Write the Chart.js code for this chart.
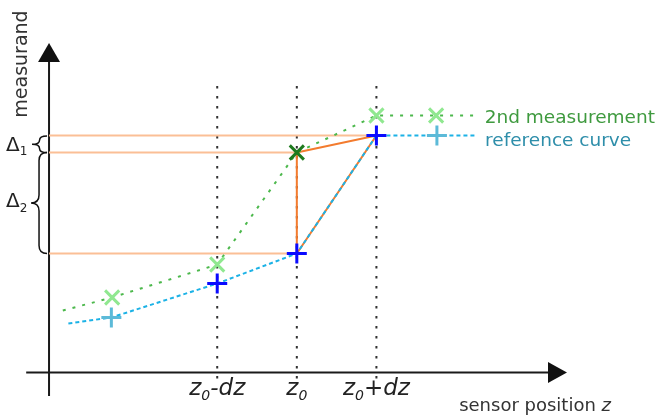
<!DOCTYPE html>
<html><head><meta charset="utf-8">
<script src="https://cdn.jsdelivr.net/npm/chart.js@4.4.1/dist/chart.umd.min.js"></script>
<style>html,body{margin:0;padding:0;background:#fff;overflow:hidden}canvas{display:block}</style>
</head><body>
<canvas id="c" width="657" height="415"></canvas>
<script>
// z in units of dz (z0 = 0), measurand in arbitrary units
const refX  = [-2.87, -2.33, -1, 0, 1, 1.76, 2.24];
const refY  = [4.9, 5.5, 8.9, 11.9, 23.7, 23.7, 23.7];
const measX = [-2.94, -2.32, -1, 0, 1, 1.75, 2.26];
const measY = [6.2, 7.5, 10.8, 22.0, 25.7, 25.7, 25.7];
const tickValues = [-1, 0, 1];
const tickLabels = [['z', '0', '-dz'], ['z', '0', ''], ['z', '0', '+dz']];
const seriesNames = ['2nd measurement', 'reference curve'];
const xTitle = ['sensor position ', 'z'];
const yTitle = 'measurand';
const deltaLabels = [['Δ', '1'], ['Δ', '2']];

// axis frame (data units)
const axisX = -3.113, axisXEnd = 3.394, axisXStart = -3.40;
const axisYTop = 32.95, axisYBottom = -2.35;
const guideTop = 29.3, guideBottom = -0.6;

const pts = (xs, ys) => xs.map((x, i) => ({x, y: ys[i]}));
const FONT = '"DejaVu Sans", sans-serif';

const refColors = refX.map((_, i) => (i >= 2 && i <= 4) ? '#0a0aff' : '#5cbad8');
const measColors = measX.map((_, i) => i === 3 ? '#1e7a1e' : '#90e890');
const markerR = refX.map((_, i) => (i === 0 || i === refX.length - 1) ? 0 : 10);
const markerM = measX.map((_, i) => (i === 0 || i === measX.length - 1) ? 0 : 10);

const datasets = [
  { data: pts(refX, refY), showLine: true, borderColor: '#1cb2e6', borderWidth: 2, borderDash: [4, 3],
    pointStyle: 'cross', pointRadius: markerR, pointBorderColor: refColors, pointBorderWidth: 3, order: 1 },
  { data: pts(measX, measY), showLine: true, borderColor: '#4cb84c', borderWidth: 2, borderDash: [3, 7],
    pointStyle: 'crossRot', pointRadius: markerM, pointBorderColor: measColors, pointBorderWidth: 3, order: 2 },
  // orange triangle
  { data: [{x: 0, y: measY[3]}, {x: 0, y: refY[3]}, {x: refX[4], y: refY[4]}, {x: 0, y: measY[3]}],
    showLine: true, borderColor: '#f37b2e', borderWidth: 2, pointRadius: 0, order: 3 },
  // orange levels
  { data: [{x: axisX, y: refY[4]}, {x: refX[4], y: refY[4]}], showLine: true, borderColor: '#fbbf96', borderWidth: 2, pointRadius: 0, order: 4 },
  { data: [{x: axisX, y: measY[3]}, {x: measX[3], y: measY[3]}], showLine: true, borderColor: '#fbbf96', borderWidth: 2, pointRadius: 0, order: 4 },
  { data: [{x: axisX, y: refY[3]}, {x: refX[3], y: refY[3]}], showLine: true, borderColor: '#fbbf96', borderWidth: 2, pointRadius: 0, order: 4 },
];
tickValues.forEach(v => datasets.push({
  data: [{x: v, y: guideBottom}, {x: v, y: guideTop}], showLine: true, borderColor: '#333',
  borderWidth: 2, borderDash: [2.5, 7.5], pointRadius: 0, order: 10
}));

function drawRuns(ctx, runs, x, y, align) {
  let w = 0;
  runs.forEach(r => { ctx.font = r.font; r.w = ctx.measureText(r.text).width; w += r.w; });
  let cx = align === 'center' ? x - w / 2 : (align === 'right' ? x - w : x);
  runs.forEach(r => {
    ctx.font = r.font; ctx.fillStyle = r.color || '#222';
    ctx.fillText(r.text, cx, y + (r.dy || 0)); cx += r.w;
  });
}

function brace(ctx, xr, y1, y2, d) {
  const mid = (y1 + y2) / 2, xm = xr - d / 2, xt = xr - d;
  const r = Math.min(d / 2, (mid - y1) / 2);
  ctx.beginPath();
  ctx.moveTo(xr, y1);
  ctx.quadraticCurveTo(xm, y1, xm, y1 + r);
  ctx.lineTo(xm, mid - r);
  ctx.quadraticCurveTo(xm, mid, xt, mid);
  ctx.quadraticCurveTo(xm, mid, xm, mid + r);
  ctx.lineTo(xm, y2 - r);
  ctx.quadraticCurveTo(xm, y2, xr, y2);
  ctx.stroke();
}

const decor = {
  id: 'decor',
  beforeDatasetsDraw(chart) {
    const {ctx, scales: {x, y}} = chart;
    const ax = x.getPixelForValue(axisX), ay = y.getPixelForValue(0);
    const yTop = y.getPixelForValue(axisYTop), xEnd = x.getPixelForValue(axisXEnd);
    ctx.save();
    ctx.strokeStyle = '#1a1a1a'; ctx.fillStyle = '#111'; ctx.lineWidth = 2;
    ctx.beginPath();
    ctx.moveTo(ax, y.getPixelForValue(axisYBottom)); ctx.lineTo(ax, yTop + 15);
    ctx.moveTo(x.getPixelForValue(axisXStart), ay); ctx.lineTo(xEnd - 15, ay);
    ctx.stroke();
    ctx.beginPath();
    ctx.moveTo(ax, yTop); ctx.lineTo(ax - 11, yTop + 19); ctx.lineTo(ax + 11, yTop + 19); ctx.closePath(); ctx.fill();
    ctx.beginPath();
    ctx.moveTo(xEnd, ay); ctx.lineTo(xEnd - 19, ay - 10.5); ctx.lineTo(xEnd - 19, ay + 10.5); ctx.closePath(); ctx.fill();
    ctx.restore();
  },
  afterDraw(chart) {
    const {ctx, scales: {x, y}} = chart;
    const ax = x.getPixelForValue(axisX), ay = y.getPixelForValue(0);
    ctx.save();
    ctx.textBaseline = 'alphabetic';
    // tick labels
    tickValues.forEach((v, i) => {
      const [a, s, b] = tickLabels[i];
      drawRuns(ctx, [
        {text: a, font: 'italic 23px ' + FONT},
        {text: s, font: 'italic 14px ' + FONT, dy: 5},
        {text: b, font: 'italic 23px ' + FONT}
      ], x.getPixelForValue(v), ay + 22, 'center');
    });
    // x title
    drawRuns(ctx, [
      {text: xTitle[0], font: '18px ' + FONT, color: '#333'},
      {text: xTitle[1], font: 'italic 18px ' + FONT, color: '#333'}
    ], 611, 411, 'right');
    // y title
    ctx.save();
    ctx.translate(27, 64); ctx.rotate(-Math.PI / 2);
    ctx.font = '19px ' + FONT; ctx.fillStyle = '#333'; ctx.textAlign = 'center';
    ctx.fillText(yTitle, 0, 0);
    ctx.restore();
    // series names
    const gEnd = x.getPixelForValue(measX[measX.length - 1]);
    const bEnd = x.getPixelForValue(refX[refX.length - 1]);
    ctx.font = '18.5px ' + FONT;
    ctx.fillStyle = '#3f9a3f';
    ctx.fillText(seriesNames[0], gEnd + 8, y.getPixelForValue(measY[measY.length - 1]) + 7);
    ctx.fillStyle = '#2e8eaa';
    ctx.fillText(seriesNames[1], bEnd + 10, y.getPixelForValue(refY[refY.length - 1]) + 10.5);
    // braces
    const l1 = y.getPixelForValue(refY[4]), l2 = y.getPixelForValue(measY[3]), l3 = y.getPixelForValue(refY[3]);
    ctx.strokeStyle = '#111'; ctx.lineWidth = 1.5;
    brace(ctx, ax - 2, l1 + 0.5, l2, 15);
    brace(ctx, ax - 2, l2, l3, 16);
    drawRuns(ctx, [{text: deltaLabels[0][0], font: '20px ' + FONT}, {text: deltaLabels[0][1], font: '12px ' + FONT, dy: 4}],
      6, (l1 + l2) / 2 + 7, 'left');
    drawRuns(ctx, [{text: deltaLabels[1][0], font: '20px ' + FONT}, {text: deltaLabels[1][1], font: '12px ' + FONT, dy: 5}],
      6, (l2 + l3) / 2 + 3.5, 'left');
    ctx.restore();
  }
};

new Chart(document.getElementById('c'), {
  type: 'scatter',
  data: {datasets},
  options: {
    responsive: false, animation: false, devicePixelRatio: 1,
    layout: {padding: 0},
    plugins: {legend: {display: false}, tooltip: {enabled: false}},
    scales: {
      x: {type: 'linear', display: false, min: -3.729, max: 4.525},
      y: {type: 'linear', display: false, min: -4.25, max: 37.25}
    }
  },
  plugins: [decor]
});
</script>
</body></html>
